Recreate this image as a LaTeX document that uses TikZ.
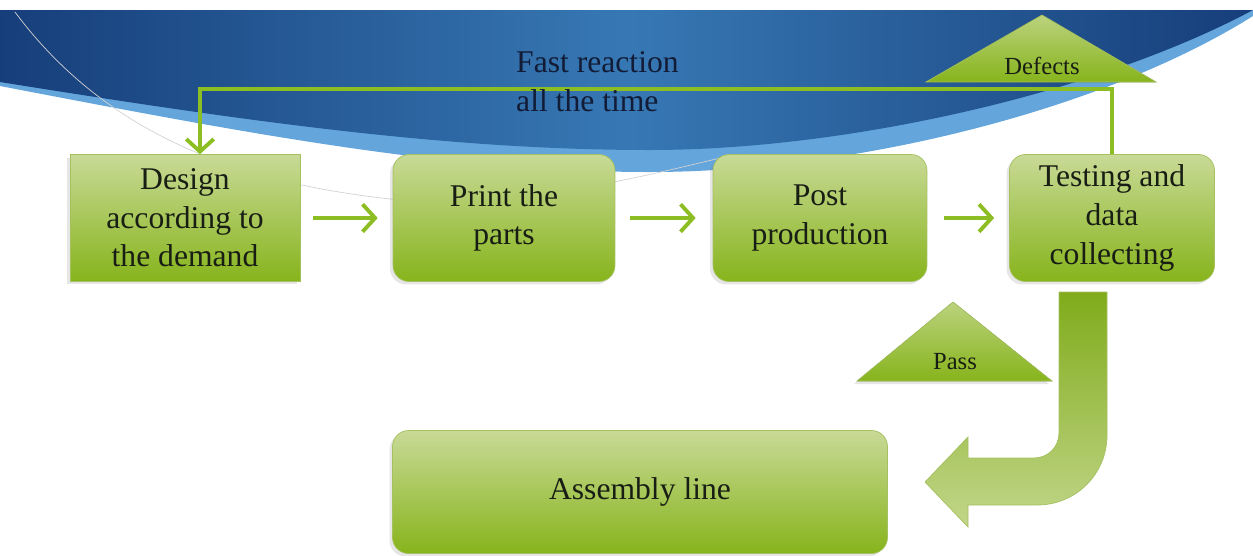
\documentclass[tikz,border=0pt]{standalone}
\usepackage{fontspec}
\setmainfont{Liberation Serif}
\usetikzlibrary{arrows.meta, positioning, shadows}
\definecolor{bandDark}{RGB}{22,62,122}
\definecolor{bandMid}{RGB}{55,120,180}
\definecolor{bandLight}{RGB}{100,165,220}
\definecolor{leafTop}{RGB}{200,218,150}
\definecolor{leafBottom}{RGB}{135,180,28}
\definecolor{leafLine}{RGB}{165,192,95}
\definecolor{arrowGreen}{RGB}{140,190,35}
\definecolor{inkDark}{RGB}{25,30,20}
\definecolor{navyText}{RGB}{18,28,55}

\tikzset{
  stepbox/.style={draw=leafLine, top color=leafTop, bottom color=leafBottom, text=inkDark,
    align=center, minimum height=2.54cm, font=\fontsize{18}{22}\selectfont,
    drop shadow={opacity=0.2, shadow xshift=-0.6mm, shadow yshift=-0.6mm}},
  roundbox/.style={stepbox, rounded corners=0.32cm},
  flow/.style={arrowGreen, line width=2.2pt, -{Straight Barb[length=2.5mm, width=5.5mm]}},
  tag/.style={draw=leafLine, top color=leafTop!80!leafBottom, bottom color=leafBottom},
}

\begin{document}
\begin{tikzpicture}[x=0.02cm, y=-0.02cm]
  \useasboundingbox (0,0) rectangle (1253,555);

  % blue band
  \fill[bandLight] (0,10) -- (1253,10) -- (1253,16)
    .. controls (1100,112) and (850,172) .. (650,172)
    .. controls (450,172) and (250,134) .. (0,86) -- cycle;
  \shade[left color=bandDark, right color=bandDark, middle color=bandMid]
    (0,10) -- (1253,10) -- (1253,10)
    .. controls (1100,92) and (850,150) .. (650,150)
    .. controls (450,150) and (250,122) .. (0,82) -- cycle;
  \draw[gray!35, thin] (15,12) .. controls (110,140) and (250,185) .. (400,200)
    .. controls (500,208) and (610,185) .. (720,158);

  % steps
  \node[stepbox, minimum width=4.6cm] (design) at (185,218) {Design\\according to\\the demand};
  \node[roundbox, minimum width=4.44cm] (print) at (504,218) {Print the\\parts};
  \node[roundbox, minimum width=4.28cm] (post) at (820,218) {Post\\production};
  \node[roundbox, minimum width=4.1cm] (test) at (1112,218) {Testing and\\data\\collecting};
  \node[roundbox, minimum width=9.9cm, minimum height=2.46cm] (assembly) at (640,492) {Assembly line};

  \draw[flow, shorten <=0.26cm, shorten >=0.3cm] (design) -- (print);
  \draw[flow, shorten <=0.3cm, shorten >=0.34cm] (print) -- (post);
  \draw[flow, shorten <=0.34cm, shorten >=0.3cm] (post) -- (test);

  % defects loop
  \fill[tag] (926,82) -- (1042,15) -- (1156,82) -- cycle;
  \node[font=\fontsize{14}{16}\selectfont, text=inkDark] (defects) at (1042,66) {Defects};
  \coordinate (fb) at (200,89);
  \draw[flow] (test.north) |- (fb) -- (fb |- design.north);
  \node[font=\fontsize{18}{22}\selectfont, text=navyText, align=left, anchor=west] (fast) at (510,82) {Fast reaction\\all the time};

  % pass
  \fill[tag, drop shadow={opacity=0.2, shadow xshift=-0.6mm, shadow yshift=-0.6mm}]
    (857,381) -- (953,302) -- (1052,381) -- cycle;
  \node[font=\fontsize{14}{16}\selectfont, text=inkDark] (pass) at (955,362) {Pass};
  \shade[top color=leafBottom!95!black, bottom color=leafTop!90!leafBottom, draw=leafLine]
    (1059,292) -- (1107,292) -- (1107,435)
    .. controls (1107,474) and (1076,505) .. (1037,505)
    -- (968,505) -- (968,527) -- (925,482) -- (968,437) -- (968,458) -- (1034,458)
    .. controls (1048,458) and (1059,447) .. (1059,433) -- cycle;
\end{tikzpicture}
\end{document}
